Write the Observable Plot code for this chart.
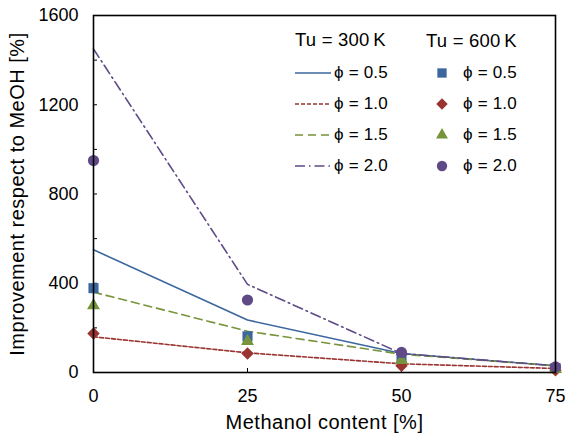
<!DOCTYPE html>
<html>
<head>
<meta charset="utf-8">
<script src="https://cdn.jsdelivr.net/npm/d3@7"></script>
<script src="https://cdn.jsdelivr.net/npm/@observablehq/plot@0.6"></script>
<style>
  html, body { margin: 0; padding: 0; background: #fff; }
  #wrap { position: relative; width: 565px; height: 434px; font-family: "Liberation Sans", Arial, sans-serif; }
  #wrap svg.plot { display: block; }
  g[aria-label="y-axis label"] text, g[aria-label="x-axis label"] text { letter-spacing: 0.5px; font-size: 20px; }
  g[aria-label="y-axis tick label"] text, g[aria-label="x-axis tick label"] text { font-size: 18px; }
  .leg { position: absolute; font-size: 17px; line-height: 20px; color: #000; white-space: nowrap; letter-spacing: 0.2px; }
  .leg.head { font-size: 18.5px; }
  .sw { position: absolute; }
</style>
</head>
<body>
<div id="wrap"></div>
<script>
// Methanol content of the blend [%]
const methanol = [0, 25, 50, 75];
const phiLabels = ["ϕ = 0.5", "ϕ = 1.0", "ϕ = 1.5", "ϕ = 2.0"];
const yTicks = [0, 400, 800, 1200, 1600];
const yMinorTicks = [0, 200, 400, 600, 800, 1000, 1200, 1400, 1600];
const xTicks = [0, 25, 50, 75];

// Unburned temperature 300 K (lines)
const tu300_phi05 = [550, 235, 85, 30];
const tu300_phi10 = [160, 88, 39, 18];
const tu300_phi15 = [360, 185, 82, 30];
const tu300_phi20 = [1450, 395, 85, 30];

// Unburned temperature 600 K (markers)
const tu600_phi05 = [378, 162, 65, 20];
const tu600_phi10 = [175, 85, 30, 10];
const tu600_phi15 = [300, 140, 55, 15];
const tu600_phi20 = [950, 325, 90, 25];

// Styles per equivalence ratio
const colors = ["#3b679e", "#993431", "#77933c", "#5f4a87"];
const dashes = [null, "4,2", "8,5", "10,4,1.5,4"];
const symbols = ["square", "diamond2", "triangle", "circle"];
const radii = [5.7, 5.6, 4.8, 5.6];
const d3Symbols = [d3.symbolSquare, d3.symbolDiamond2, d3.symbolTriangle, d3.symbolCircle];

const lines300 = [tu300_phi05, tu300_phi10, tu300_phi15, tu300_phi20];
const points600 = [tu600_phi05, tu600_phi10, tu600_phi15, tu600_phi20];

const toRows = (vals) => methanol.map((m, i) => ({m, v: vals[i]}));

const marks = [];
lines300.forEach((vals, k) => {
  marks.push(Plot.line(toRows(vals), {
    x: "m", y: "v", stroke: colors[k], strokeWidth: 1.6,
    strokeDasharray: dashes[k] ?? undefined
  }));
});
points600.forEach((vals, k) => {
  marks.push(Plot.dot(toRows(vals), {
    x: "m", y: "v", symbol: () => symbols[k], fill: colors[k], r: radii[k], stroke: "none"
  }));
});

const chart = Plot.plot({
  width: 565,
  height: 434,
  marginLeft: 93,
  marginRight: 10,
  marginTop: 15,
  marginBottom: 62,
  style: { fontFamily: "'Liberation Sans', Arial, sans-serif", background: "#fff", color: "#000" },
  x: { domain: [0, 75] },
  y: { domain: [0, 1600] },
  marks: [
    Plot.axisY({ ticks: yMinorTicks, tickSize: -4, tickFormat: () => "", label: null }),
    Plot.axisY({
      ticks: yTicks, tickSize: 0, tickPadding: 15, tickFormat: (d) => String(d),
      label: "Improvement respect to MeOH [%]", labelAnchor: "center", labelArrow: "none", labelOffset: 84
    }),
    Plot.axisX({ ticks: [25, 50], tickSize: -4, tickFormat: () => "", label: null }),
    Plot.axisX({
      ticks: xTicks, tickSize: 0, tickPadding: 17, tickFormat: (d) => String(d),
      label: "Methanol content [%]", labelAnchor: "center", labelArrow: "none", labelOffset: 56
    }),
    ...marks,
    Plot.frame({ stroke: "#000", strokeWidth: 1.6 })
  ]
});
chart.classList.add("plot");
const wrap = document.getElementById("wrap");
wrap.appendChild(chart);

// Legend: two columns over the upper right of the plot area
function addText(txt, left, cy, cls) {
  const d = document.createElement("div");
  d.className = "leg" + (cls ? " " + cls : "");
  d.textContent = txt;
  d.style.left = left + "px";
  d.style.top = (cy - 10) + "px";
  wrap.appendChild(d);
}
const ns = "http://www.w3.org/2000/svg";
addText("Tu = 300\u2009K", 295, 40, "head");
addText("Tu = 600\u2009K", 426, 41, "head");
phiLabels.forEach((lab, k) => {
  const cy = 73 + 31 * k;
  // line swatch
  const s1 = document.createElementNS(ns, "svg");
  s1.setAttribute("class", "sw");
  s1.setAttribute("width", 36); s1.setAttribute("height", 10);
  s1.style.left = "295px"; s1.style.top = (cy - 5) + "px";
  const ln = document.createElementNS(ns, "line");
  ln.setAttribute("x1", 0); ln.setAttribute("x2", 36);
  ln.setAttribute("y1", 5); ln.setAttribute("y2", 5);
  ln.setAttribute("stroke", colors[k]); ln.setAttribute("stroke-width", 1.6);
  if (dashes[k]) ln.setAttribute("stroke-dasharray", dashes[k]);
  s1.appendChild(ln);
  wrap.appendChild(s1);
  addText(lab, 334, cy);
  // marker swatch
  const s2 = document.createElementNS(ns, "svg");
  s2.setAttribute("class", "sw");
  s2.setAttribute("width", 20); s2.setAttribute("height", 20);
  s2.style.left = "432px"; s2.style.top = (cy - 10) + "px";
  const p = document.createElementNS(ns, "path");
  p.setAttribute("transform", "translate(10,10)");
  p.setAttribute("d", d3.symbol(d3Symbols[k], Math.PI * radii[k] * radii[k] * 0.85)());
  p.setAttribute("fill", colors[k]);
  s2.appendChild(p);
  wrap.appendChild(s2);
  addText(lab, 463, cy);
});
</script>
</body>
</html>
